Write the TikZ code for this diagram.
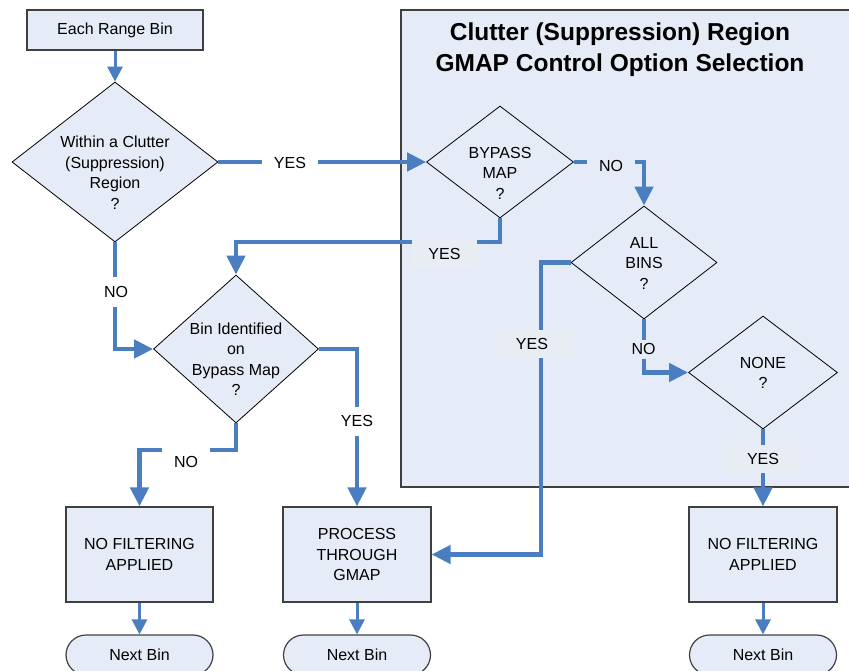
\documentclass[tikz,border=0pt]{standalone}
\usepackage{fontspec}
\setmainfont{Liberation Sans}
\usetikzlibrary{arrows.meta,shapes.geometric}
\definecolor{fillb}{RGB}{230,236,247}
\definecolor{labb}{RGB}{232,236,243}
\definecolor{lineb}{RGB}{74,126,193}
\definecolor{edgec}{RGB}{64,64,64}
\begin{document}
\begin{tikzpicture}[x=1pt,y=-1pt,
  font=\fontsize{16}{20.5}\selectfont,
  procbox/.style={rectangle,draw=edgec,line width=1.2pt,fill=fillb,align=center,inner sep=0pt},
  term/.style={rectangle,rounded corners=20pt,draw=edgec,line width=1.2pt,fill=fillb,minimum width=147pt,minimum height=40pt,inner sep=0pt},
  dec/.style={diamond,draw=black,line width=0.8pt,fill=fillb,inner sep=0pt},
  dtext/.style={align=center,inner sep=0pt},
  conn/.style={draw=lineb,line width=4.5pt,-{Triangle[length=19pt,width=18pt]}},
  thinconn/.style={draw=lineb,line width=3pt,-{Triangle[length=15pt,width=15pt]}},
  wlab/.style={fill=white,inner sep=0pt},
  rlab/.style={fill=fillb,inner sep=0pt},
  blab/.style={fill=labb,inner sep=0pt,minimum height=28pt}]
\useasboundingbox (0,0) rectangle (849,671);
% region
\fill[fillb] (401,10) rectangle (853,487);
\draw[edgec,line width=1.2pt] (853,10) -- (401,10) -- (401,487) -- (853,487);
\node[font=\bfseries\fontsize{24.5}{31}\selectfont,align=center,inner sep=0pt] (title) at (620,49.5)
  {Clutter (Suppression) Region\\GMAP Control Option Selection};
% nodes
\node[procbox,minimum width=176pt,minimum height=40pt] (erb) at (115,30) {Each Range Bin};
\node[dec,minimum width=206pt,minimum height=160pt] (d1) at (115,162) {};
\node[dtext] (d1t) at (115,172.5) {Within a Clutter\\(Suppression)\\Region\\?};
\node[dec,minimum width=147pt,minimum height=112pt] (bp) at (500,162) {};
\node[dtext] (bpt) at (500,173) {BYPASS\\MAP\\?};
\node[dec,minimum width=146pt,minimum height=113pt] (ab) at (644,262.5) {};
\node[dtext] (abt) at (644,263) {ALL\\BINS\\?};
\node[dec,minimum width=149pt,minimum height=113pt] (no) at (763,372.5) {};
\node[dtext] (not) at (763,373) {NONE\\?};
\node[dec,minimum width=165pt,minimum height=148pt] (d2) at (236,349) {};
\node[dtext] (d2t) at (236,359) {Bin Identified\\on\\Bypass Map\\?};
\node[procbox,minimum width=147pt,minimum height=95pt] (nf1) at (139.5,554.5) {NO FILTERING\\APPLIED};
\node[procbox,minimum width=148pt,minimum height=95pt] (pr) at (357,554.5) {PROCESS\\THROUGH\\GMAP};
\node[procbox,minimum width=148pt,minimum height=95pt] (nf2) at (763,554.5) {NO FILTERING\\APPLIED};
\node[term] (nb1) at (139.5,655) {Next Bin};
\node[term] (nb2) at (357,655) {Next Bin};
\node[term] (nb3) at (763,655) {Next Bin};
% helper coordinates
\coordinate (c1) at (500,242);
\coordinate (c2) at (541,262.5);
\coordinate (c3) at (236,450);
% connectors
\draw[thinconn] (erb.south) -- (d1.north);
\draw[conn] (d1.east) -- (bp.west);
\node[wlab,minimum width=56pt,minimum height=28pt] (l1) at (290,163) {YES};
\draw[conn] (d1.south) |- (d2.west);
\node[wlab,minimum width=40pt,minimum height=30pt] (l2) at (116,292) {NO};
\draw[conn] (bp.south) -- (c1) -| (d2.north);
\node[blab,minimum width=65pt] (l3) at (444.5,254) {YES};
\draw[conn] (bp.east) -| (ab.north);
\node[rlab,minimum width=48pt,minimum height=28pt] (l4) at (611,166) {NO};
\draw[conn] (ab.west) -- (c2) |- (pr.east);
\node[blab,minimum width=74pt] (l5) at (532,344) {YES};
\draw[conn] (ab.south) |- (no.west);
\node[rlab,minimum width=34pt,minimum height=19pt] (l6) at (643.5,349) {NO};
\draw[conn] (no.south) -- (nf2.north);
\node[blab,minimum width=74pt] (l7) at (763,459) {YES};
\draw[conn] (d2.east) -| (pr.north);
\node[wlab,minimum width=40pt,minimum height=29pt] (l8) at (357,421) {YES};
\draw[conn] (d2.south) -- (c3) -| (nf1.north);
\node[wlab,minimum width=48pt,minimum height=28pt] (l9) at (186,462) {NO};
\draw[thinconn] (nf1.south) -- (nb1.north);
\draw[thinconn] (pr.south) -- (nb2.north);
\draw[thinconn] (nf2.south) -- (nb3.north);
\end{tikzpicture}
\end{document}
